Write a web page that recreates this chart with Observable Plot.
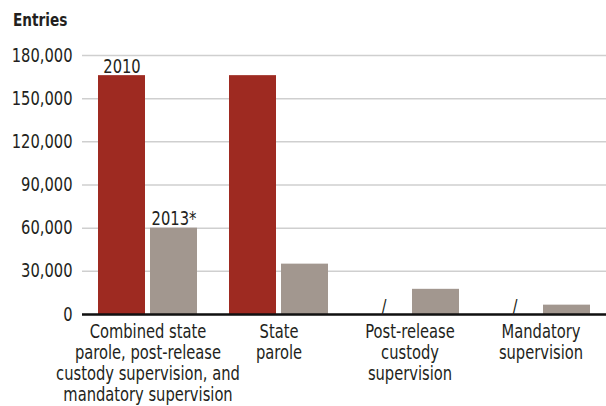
<!DOCTYPE html>
<html><head><meta charset="utf-8">
<script src="https://cdn.jsdelivr.net/npm/d3@7"></script>
<script src="https://cdn.jsdelivr.net/npm/@observablehq/plot@0.6"></script>
<style>
body{margin:0;background:#fff;font-family:"DejaVu Sans Condensed","DejaVu Sans",sans-serif;}
#title{height:36px;padding-left:13px;font-weight:bold;font-size:18.5px;line-height:40px;color:#231f20}
#title span{display:inline-block;transform:scaleX(0.82);transform-origin:left center}
#chart svg{display:block}
</style></head><body>
<div id="title"><span>Entries</span></div>
<div id="chart"></div>
<script>
const categories = ["Combined", "State parole", "Post-release", "Mandatory"];
const categoryLabels = [
  "Combined state\nparole, post-release\ncustody supervision, and\nmandatory supervision",
  "State\nparole",
  "Post-release\ncustody\nsupervision",
  "Mandatory\nsupervision"
];
const years = ["2010", "2013*"];
const values2010 = [166000, 166000, null, null];
const values2013 = [60000, 35000, 17500, 6500];
const yTicks = [0, 30000, 60000, 90000, 120000, 150000, 180000];

const data = [];
categories.forEach((c, i) => {
  data.push({category: c, year: years[0], value: values2010[i]});
  data.push({category: c, year: years[1], value: values2013[i]});
});
const bars = data.filter(d => d.value != null);
const yearLabels = [data[0], data[1]];
const missing = data.filter(d => d.value == null);

const font = '"DejaVu Sans Condensed","DejaVu Sans",sans-serif';
const fs = 19;
const chart = Plot.plot({
  width: 606, height: 370,
  marginLeft: 82, marginRight: 0, marginTop: 19, marginBottom: 92,
  style: {fontFamily: font, fontSize: fs + "px", color: "#231f20", background: "#fff"},
  fx: {domain: categories, paddingInner: 0, paddingOuter: 0, axis: null},
  x: {domain: years, paddingInner: 0.094, paddingOuter: 0.283, axis: null},
  y: {domain: [0, 180000], axis: null},
  color: {domain: years, range: ["#9e2a21", "#a2978f"]},
  marks: [
    Plot.gridY(yTicks, {stroke: "#cfcfcf", strokeOpacity: 1, strokeWidth: 1.5}),
    Plot.axisY(yTicks, {tickSize: 0, tickPadding: 10, tickFormat: d3.format(","), label: null, fontSize: fs}),
    Plot.barY(bars, {fx: "category", x: "year", y: "value", fill: "year"}),
    Plot.ruleY([0], {stroke: "#111", strokeWidth: 2.5}),
    Plot.text(yearLabels, {fx: "category", x: "year", y: "value", text: "year", lineAnchor: "bottom", dy: -3, fontSize: fs}),
    Plot.text(missing, {fx: "category", x: "year", y: 0, text: () => "/", lineAnchor: "bottom", dy: -2, fontSize: fs}),
    Plot.axisFx({anchor: "bottom", tickSize: 0, tickPadding: 9, label: null, lineHeight: 1.1, fontSize: fs,
      tickFormat: c => categoryLabels[categories.indexOf(c)]})
  ]
});
document.getElementById("chart").append(chart);
// condense glyphs horizontally to mimic the reference's condensed face
chart.querySelectorAll("text").forEach(t => {
  const tspans = t.querySelectorAll("tspan");
  const targets = tspans.length ? Array.from(tspans) : [t];
  targets.forEach(el => {
    const L = el.getComputedTextLength();
    if (L > 0) {
      el.setAttribute("textLength", (L * 0.86).toFixed(2));
      el.setAttribute("lengthAdjust", "spacingAndGlyphs");
    }
  });
});
</script>
</body></html>
